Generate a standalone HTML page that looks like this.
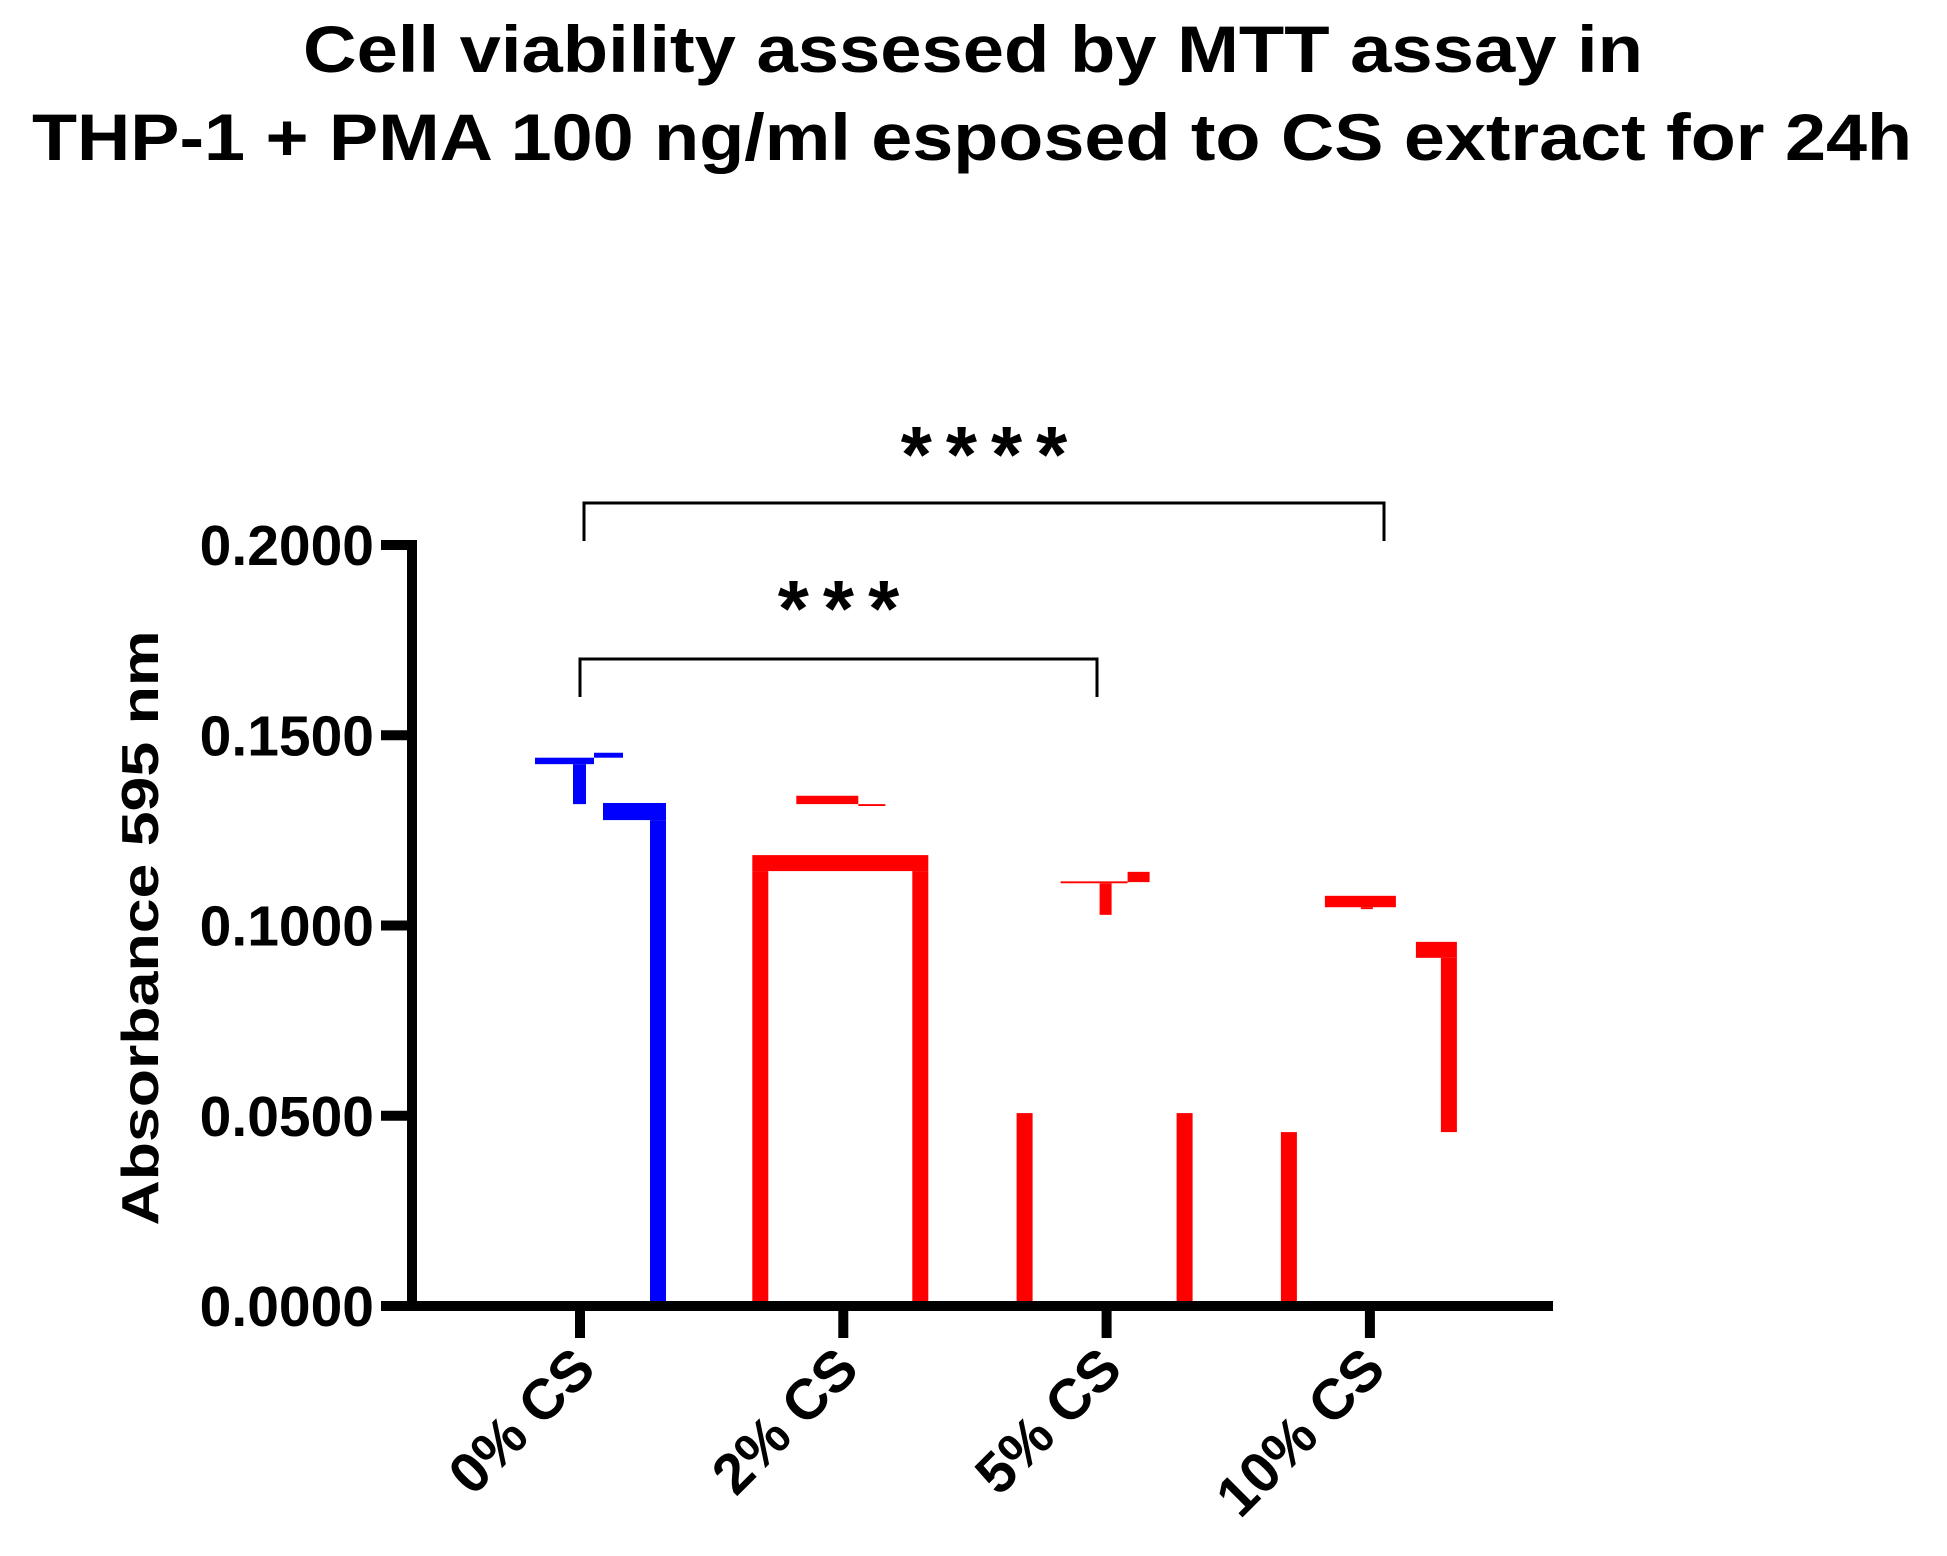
<!DOCTYPE html>
<html><head><meta charset="utf-8"><style>
html,body{margin:0;padding:0;background:#fff}
svg{display:block}
text{font-family:"Liberation Sans",Arial,sans-serif;font-weight:bold;fill:#000}
</style></head><body>
<svg id="chart" width="1947" height="1556" viewBox="0 0 1947 1556" xmlns="http://www.w3.org/2000/svg">
<text x="973" y="72" font-size="66" text-anchor="middle" textLength="1340" lengthAdjust="spacingAndGlyphs">Cell viability assesed by MTT assay in</text>
<text x="972" y="160" font-size="66" text-anchor="middle" textLength="1880" lengthAdjust="spacingAndGlyphs">THP-1 + PMA 100 ng/ml esposed to CS extract for 24h</text>
<text transform="translate(158,928) rotate(-90)" font-size="52" text-anchor="middle" textLength="595" lengthAdjust="spacingAndGlyphs">Absorbance 595 nm</text>
<g id="marks"></g>
<g id="axes"></g>
</svg>
<script>
const categories = ["0% CS", "2% CS", "5% CS", "10% CS"];
const tickValues = [0, 0.05, 0.1, 0.15, 0.2];
const tickLabels = ["0.0000", "0.0500", "0.1000", "0.1500", "0.2000"];
const seriesColors = ["#0000ff", "#ff0000", "#ff0000", "#ff0000"];
// segment values per category: [top value, bottom value]
const seg0 = [[0.1441,0.1424],[0.1454,0.1441],[0.1424,0.1319],[0.1322,0.1277],[0.1277,0]];
const seg1 = [[0.1341,0.1319],[0.1319,0.1314],[0.1185,0.1143],[0.1143,0],[0.1143,0]];
const seg2 = [[0.1116,0.1111],[0.1111,0.1028],[0.1141,0.1114],[0.0507,0],[0.0507,0]];
const seg3 = [[0.1078,0.1048],[0.1048,0.1043],[0.0457,0],[0.0957,0.0915],[0.0915,0.0457]];
const segValues = [seg0, seg1, seg2, seg3];
const sigLabels = ["***", "****"];
const sigPairs = [[0, 2], [0, 3]];

// layout (not data)
const segOffsets = [
  [[-45,14],[14,43],[-7,6],[23,86],[70,86]],
  [[-47,15],[15,42],[-91,85],[-91,-75],[69,85]],
  [[-46,21],[-7,5],[21,43],[-90,-74],[70,86]],
  [[-45,26],[-9,3],[-89,-73],[46,87],[71,87]]
];
const NS = "http://www.w3.org/2000/svg";
const y0 = 1306, yTop = 545, vMax = 0.2;
function yScale(v){ return y0 - v/vMax*(y0-yTop); }
function xScale(i){ return 580 + i*263.3; }
function mk(tag, attrs, parent){ const e=document.createElementNS(NS,tag); for(const k in attrs) e.setAttribute(k,attrs[k]); parent.appendChild(e); return e; }
const marks=document.getElementById('marks'), axes=document.getElementById('axes');

segValues.forEach((segs,i)=>{
  segs.forEach((s,j)=>{
    const o=segOffsets[i][j];
    const r=mk('rect',{x:xScale(i)+o[0],y:yScale(s[0]),width:o[1]-o[0],height:Math.max(1,yScale(s[1])-yScale(s[0])),fill:seriesColors[i]},marks);
    
    
  });
});

const ya=mk('rect',{x:407,y:yTop-5,width:10,height:y0-yTop+10,fill:'#000'},axes);


const xa=mk('rect',{x:381,y:y0-5,width:1172,height:10,fill:'#000'},axes);


tickValues.forEach((v,k)=>{
  const t=mk('rect',{x:381,y:yScale(v)-5,width:30,height:10,fill:'#000'},axes);
  
  
  const l=mk('text',{x:374,y:yScale(v)+20,'font-size':57,'text-anchor':'end'},axes);
  l.textContent=tickLabels[k];
  
  
});
categories.forEach((c,i)=>{
  const t=mk('rect',{x:xScale(i)-5,y:y0,width:10,height:32,fill:'#000'},axes);
  
  
  const l=mk('text',{transform:`translate(${xScale(i)+18},${1372}) rotate(-45)`,'font-size':57,'text-anchor':'end'},axes);
  l.textContent=c;
  
  
});
const bY=[659,503], bX=[[580,1097],[584,1384]], sY=[636,482];
sigPairs.forEach((p,k)=>{
  const x1=bX[k][0], x2=bX[k][1];
  const b=mk('path',{d:`M${x1},${bY[k]+38}V${bY[k]}H${x2}V${bY[k]+38}`,fill:'none',stroke:'#000','stroke-width':3},axes);
  
  
  const s=mk('text',{x:(x1+x2)/2+7,y:sY[k],'font-size':80,'text-anchor':'middle','letter-spacing':'14'},axes);
  s.textContent=sigLabels[k];
  
  
});
</script>
</body></html>
